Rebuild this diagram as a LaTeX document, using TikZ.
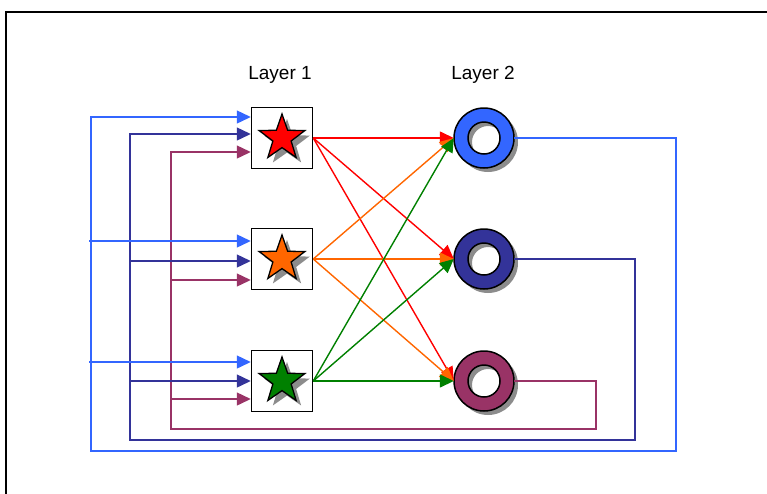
\documentclass[tikz,border=0pt]{standalone}
\usepackage{fontspec}
\setmainfont{Liberation Sans}
\usetikzlibrary{arrows.meta,shapes.geometric,shadows}

\definecolor{inblue}{HTML}{3366FF}
\definecolor{indarkblue}{HTML}{333399}
\definecolor{inpurple}{HTML}{993366}
\definecolor{starorange}{HTML}{FF6600}
\definecolor{stargreen}{HTML}{008000}

\tikzset{
  layerlabel/.style={font=\fontsize{19}{21}\selectfont},
  unit/.style={draw, line width=1.5pt, fill=white, minimum size=61pt, inner sep=0pt},
  starmark/.style={star, star points=5, star point ratio=2.5, draw, line width=1.3pt,
    minimum size=48pt, inner sep=0pt, fill=#1,
    drop shadow={shadow xshift=5pt, shadow yshift=-5pt, fill=black!45, opacity=1}},
  ringnode/.style={circle, minimum size=60pt, inner sep=0pt},
  link/.style={line width=1.4pt, -{Triangle[length=14pt, width=13pt]}},
  back/.style={line width=1.4pt},
}

\begin{document}
\begin{tikzpicture}[x=1pt, y=-1pt]
\clip (0,0) rectangle (767,493);
\draw [line width=1.5pt] (6,12) rectangle (800,520);

\node [layerlabel] (lab1) at (280,75) {Layer 1};
\node [layerlabel] (lab2) at (483,75) {Layer 2};

% layer 1
\node [unit] (u1) at (282,138) {};
\node [unit] (u2) at (282,259) {};
\node [unit] (u3) at (282,381) {};
\node [starmark=red] (st1) at (u1) {};
\node [starmark=starorange] (st2) at (u2) {};
\node [starmark=stargreen] (st3) at (u3) {};

% layer 2
\node [ringnode] (r1) at (484,138) {};
\node [ringnode] (r2) at (484,259) {};
\node [ringnode] (r3) at (484,381) {};
\foreach \i/\c in {1/inblue, 2/indarkblue, 3/inpurple} {
  \fill [black!45, even odd rule] ([shift={(4,4)}]r\i.center) circle [radius=30pt] circle [radius=16pt];
  \draw [line width=1.5pt, fill=\c, even odd rule] (r\i.center) circle [radius=30pt] circle [radius=16pt];
}

\foreach \s/\c in {1/red, 2/starorange, 3/stargreen}
  \foreach \t in {1,2,3}
    \draw [link, \c] (u\s.east) -- (r\t.west);

% inputs
\foreach \i/\yb/\yd/\yp in {1/117/134/152, 2/241/261/280, 3/362/381/399} {
  \coordinate (in\i b) at (u\i.west |- 0,\yb);
  \coordinate (in\i d) at (u\i.west |- 0,\yd);
  \coordinate (in\i p) at (u\i.west |- 0,\yp);
}

\draw [link, inblue] (r1.east) -| (676,451) -| (91,117) -- (in1b);
\draw [link, indarkblue] (r2.east) -| (635,440) -| (130,134) -- (in1d);
\draw [link, inpurple] (r3.east) -| (596,429) -| (171,152) -- (in1p);

\draw [link, inblue] (89,241) -- (in2b);
\draw [link, inblue] (89,362) -- (in3b);
\draw [link, indarkblue] (130,261) -- (in2d);
\draw [link, indarkblue] (130,381) -- (in3d);
\draw [link, inpurple] (170,280) -- (in2p);
\draw [link, inpurple] (170,399) -- (in3p);
\end{tikzpicture}
\end{document}
